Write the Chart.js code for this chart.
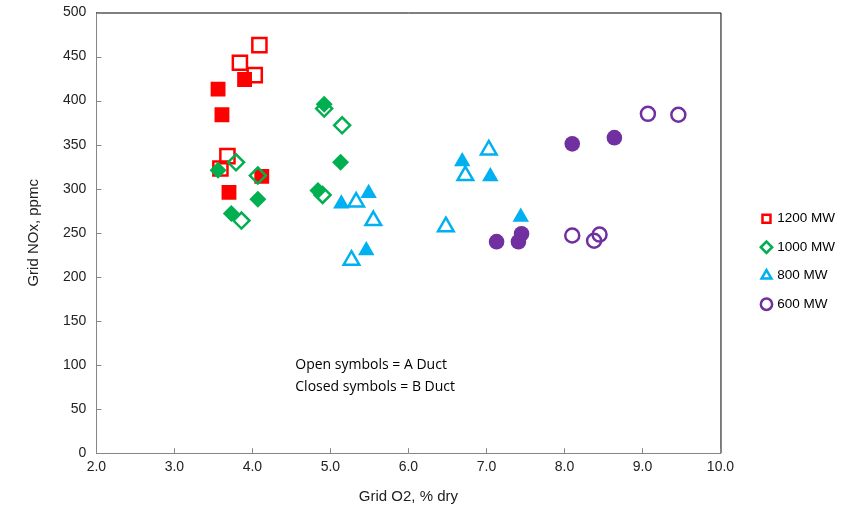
<!DOCTYPE html>
<html>
<head>
<meta charset="utf-8">
<script src="https://cdn.jsdelivr.net/npm/chart.js@4.4.1/dist/chart.umd.min.js"></script>
<style>
  html, body { margin: 0; padding: 0; background: #fff; }
  #wrap { width: 861px; height: 510px; }
</style>
</head>
<body>
<div id="wrap"><canvas id="chart" width="861" height="510"></canvas></div>
<script>
"use strict";
// Grid O2 (% dry) vs Grid NOx (ppmc); A Duct = open, B Duct = closed
const loads = ["1200 MW", "1000 MW", "800 MW", "600 MW"];
const colors = ["#FF0000", "#00B050", "#00B0F0", "#7030A0"];
const styles = ["rect", "rectRot", "triangle", "circle"];

const mw1200A = [[4.09, 463], [3.84, 443], [4.03, 429], [3.68, 337], [3.59, 323]];
const mw1200B = [[3.90, 424], [3.56, 413], [3.61, 384], [3.70, 296], [4.12, 314]];
const mw1000A = [[3.79, 330], [3.86, 264], [4.07, 315], [4.92, 391], [5.15, 372], [4.90, 293]];
const mw1000B = [[3.56, 321], [3.73, 272], [4.07, 288], [4.92, 396], [5.13, 330], [4.84, 298]];
const mw800A = [[5.33, 285], [5.55, 264], [5.27, 219], [6.48, 257], [7.03, 344], [6.73, 315]];
const mw800B = [[5.14, 283], [5.49, 295], [5.46, 230], [6.69, 331], [7.05, 314], [7.44, 268]];
const mw600A = [[9.07, 385], [9.46, 384], [8.10, 247], [8.38, 241], [8.45, 248]];
const mw600B = [[8.10, 351], [8.64, 358], [7.13, 240], [7.41, 240], [7.45, 249]];

const openSets = [mw1200A, mw1000A, mw800A, mw600A];
const closedSets = [mw1200B, mw1000B, mw800B, mw600B];

const openRadius = [10, 8, 9, 7];
const closedRadius = [10.5, 8.5, 9.5, 7.8];

const toPts = (arr) => arr.map(([x, y]) => ({ x, y }));

const datasets = [];
loads.forEach((name, i) => {
  datasets.push({
    label: name,
    data: toPts(openSets[i]),
    pointStyle: styles[i],
    pointRadius: openRadius[i],
    pointBorderWidth: 2.5,
    borderColor: colors[i],
    backgroundColor: "rgba(255,255,255,0)",
    pointBorderColor: colors[i],
    pointBackgroundColor: "rgba(255,255,255,0)",
    order: 8 - i * 2,
    isOpen: true,
  });
  datasets.push({
    label: name + " B",
    data: toPts(closedSets[i]),
    pointStyle: styles[i],
    pointRadius: closedRadius[i],
    pointBorderWidth: 0,
    borderColor: colors[i],
    backgroundColor: colors[i],
    pointBackgroundColor: colors[i],
    order: 7 - i * 2,
    isOpen: false,
  });
});

const frameTicks = {
  id: "frameTicks",
  afterDraw(chart) {
    const { ctx, chartArea: a, scales } = chart;
    ctx.save();
    ctx.strokeStyle = "#000";
    ctx.lineWidth = 1;
    ctx.beginPath();
    ctx.moveTo(a.left, a.top + 0.5);
    ctx.lineTo(a.right + 0.5, a.top + 0.5);
    ctx.lineTo(a.right + 0.5, a.bottom);
    ctx.stroke();
    ctx.strokeStyle = "#868686";
    ctx.beginPath();
    scales.y.ticks.forEach((t) => {
      const py = Math.round(scales.y.getPixelForValue(t.value)) + 0.5;
      ctx.moveTo(a.left, py);
      ctx.lineTo(a.left + 5, py);
    });
    scales.x.ticks.forEach((t) => {
      const px = Math.round(scales.x.getPixelForValue(t.value)) + 0.5;
      ctx.moveTo(px, a.bottom);
      ctx.lineTo(px, a.bottom - 5);
    });
    ctx.stroke();
    ctx.fillStyle = "#000";
    ctx.font = "14px 'Open Sans'";
    ctx.textBaseline = "middle";
    const tx = scales.x.getPixelForValue(4.55);
    ctx.fillText("Open symbols = A Duct", tx, scales.y.getPixelForValue(100));
    ctx.fillText("Closed symbols = B Duct", tx, scales.y.getPixelForValue(75));
    ctx.restore();
  },
};

Chart.defaults.font.family = "'Liberation Sans', Arial, sans-serif";
Chart.defaults.color = "#222";

new Chart(document.getElementById("chart").getContext("2d"), {
  type: "scatter",
  data: { datasets },
  options: {
    responsive: false,
    animation: false,
    layout: { padding: { top: 0, right: 16, left: 21, bottom: 0 } },
    plugins: {
      tooltip: { enabled: false },
      legend: {
        position: "right",
        align: "center",
        title: { display: true, text: " ", font: { size: 10 }, padding: 0.5 },
        labels: {
          usePointStyle: true,
          boxWidth: 8,
          boxHeight: 8,
          padding: 15,
          color: "#000",
          font: { size: 13.5 },
          filter: (item, data) => data.datasets[item.datasetIndex].isOpen,
          sort: (a, b) => a.datasetIndex - b.datasetIndex,
        },
      },
    },
    scales: {
      x: {
        type: "linear",
        min: 2,
        max: 10,
        ticks: {
          stepSize: 1,
          padding: 6,
          font: { size: 14 },
          callback: (v) => v.toFixed(1),
        },
        grid: { drawOnChartArea: false, drawTicks: false },
        border: { color: "#868686" },
        title: { display: true, text: "Grid O2, % dry", font: { size: 15 }, padding: { top: 6 } },
      },
      y: {
        type: "linear",
        min: 0,
        max: 500,
        ticks: { stepSize: 50, padding: 10, font: { size: 14 } },
        grid: { drawOnChartArea: false, drawTicks: false },
        border: { color: "#868686" },
        title: { display: true, text: "Grid NOx, ppmc", font: { size: 15 }, padding: { bottom: 10 } },
        afterFit: (scale) => { scale.paddingTop = 6; },
      },
      // empty spacer between the plot and the legend
      gap: {
        type: "linear",
        position: "right",
        display: true,
        ticks: { display: false },
        grid: { display: false, drawTicks: false },
        border: { display: false },
        afterFit: (scale) => { scale.width = 27; },
      },
    },
  },
  plugins: [frameTicks],
});
</script>
</body>
</html>
